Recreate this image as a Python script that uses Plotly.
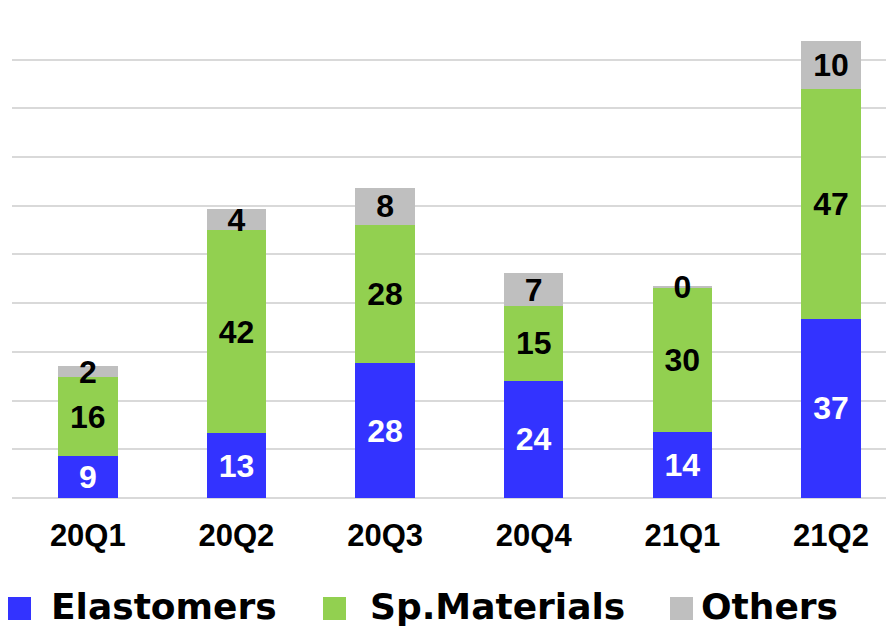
import plotly.graph_objects as go

quarters = ["20Q1", "20Q2", "20Q3", "20Q4", "21Q1", "21Q2"]
elastomers = [8.6, 13.3, 27.7, 24.1, 13.6, 36.8]
sp_materials = [16.2, 41.7, 28.4, 15.4, 29.6, 47.1]
others = [2.3, 4.3, 7.6, 6.6, 0.4, 10.0]

series = [
    ("Elastomers", elastomers, "#3333FF", "white"),
    ("Sp.Materials", sp_materials, "#92D050", "black"),
    ("Others", others, "#BFBFBF", "black"),
]

# plot area in figure pixels (used for the hand-made legend below)
W, H = 894, 628
M = dict(l=4, r=8, t=2, b=138)
plot_w = W - M["l"] - M["r"]
plot_h = H - M["t"] - M["b"]


def px_x(x):
    return (x - M["l"]) / plot_w


def px_y(y):
    return (H - M["b"] - y) / plot_h


fig = go.Figure()
for name, vals, color, txt_color in series:
    fig.add_trace(go.Bar(
        x=quarters,
        y=vals,
        name=name,
        width=0.4,
        marker=dict(color=color, line=dict(width=0)),
        texttemplate="%{y:.0f}",
        textposition="inside",
        insidetextanchor="middle",
        textangle=0,
        constraintext="none",
        textfont=dict(family="Liberation Sans, Arial", size=32, color=txt_color, weight="bold"),
        hoverinfo="skip",
        showlegend=False,
    ))

# legend: big squares + labels along the bottom
legend_sq = [0, 315, 662]
legend_tx = [41, 360, 691]
shapes, annotations = [], []
for (name, _, color, _), sx, tx in zip(series, legend_sq, legend_tx):
    shapes.append(dict(
        type="rect", xref="paper", yref="paper",
        x0=px_x(sx), x1=px_x(sx + 23), y0=px_y(612), y1=px_y(589),
        fillcolor=color, line=dict(width=0),
    ))
    annotations.append(dict(
        text=name, xref="paper", yref="paper",
        x=px_x(tx), y=px_y(598), xanchor="left", yanchor="middle",
        showarrow=False,
        font=dict(family="DejaVu Sans", size=36, color="black", weight="bold"),
    ))

fig.update_layout(
    width=W,
    height=H,
    barmode="stack",
    plot_bgcolor="white",
    paper_bgcolor="white",
    margin=M,
    xaxis=dict(
        range=[-0.51, 5.424],
        showline=False,
        showgrid=False,
        tickfont=dict(family="Liberation Sans, Arial", size=31, color="black", weight="bold"),
        ticks="",
        ticklabelstandoff=16,
    ),
    yaxis=dict(
        range=[0, 100.2],
        dtick=10,
        showticklabels=False,
        gridcolor="#D9D9D9",
        gridwidth=1.5,
        zeroline=True,
        zerolinecolor="#D9D9D9",
        zerolinewidth=1.5,
    ),
    shapes=shapes,
    annotations=annotations,
    showlegend=False,
)

fig.write_html("out.html")
